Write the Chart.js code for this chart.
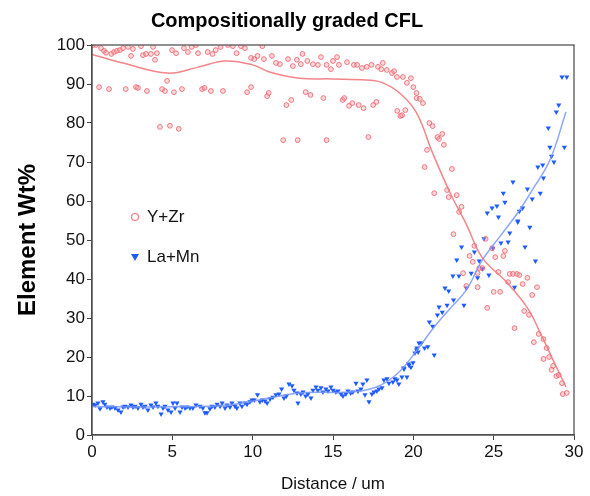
<!DOCTYPE html>
<html>
<head>
<meta charset="utf-8">
<script src="https://cdn.jsdelivr.net/npm/chart.js@4/dist/chart.umd.min.js"></script>
<style>
  html, body { margin: 0; padding: 0; background: #fff; }
  #wrap { width: 590px; height: 496px; }
</style>
</head>
<body>
<div id="wrap"><canvas id="chart"></canvas></div>
<script>
// Y+Zr measured points (distance in um, wt%)
const yzrDistance = [
  0.06, 0.25, 0.56, 0.75, 0.87, 1.2, 1.37, 1.55, 1.74, 1.93, 2.24, 2.43, 2.55, 3.05, 3.17, 3.36, 3.67, 3.8, 4.04, 3.92,
  4.98, 5.23, 5.72, 5.97, 6.2, 6.47, 6.6, 7.2, 7.5, 7.7, 8.0, 8.46, 8.77, 9.0, 9.27, 9.52, 9.9,
  10.1, 10.3, 10.6, 10.7, 11.2, 11.45, 11.7, 12.2, 12.5, 12.75, 13.0, 13.1, 13.4, 13.75, 14.06, 14.25, 14.6, 14.87, 15.0,
  15.25, 15.37, 15.87, 16.3, 16.5, 16.8, 17.1, 17.4, 17.8, 18.1, 18.0, 18.35, 18.67, 18.8, 18.98, 19.35, 19.6, 19.85,
  20.0, 20.2, 20.2, 20.4, 20.6,
  0.44, 1.06, 2.1, 2.74, 2.86, 3.42, 4.36, 4.54, 4.67, 5.1, 5.6, 6.85, 7.0, 7.4, 8.15, 9.65, 9.9, 10.9, 11.0, 12.1,
  12.4, 13.3, 13.6, 14.4, 15.6, 15.7, 16.0, 16.2, 16.6, 16.9, 17.5, 17.7, 19.0, 19.2, 19.5, 19.3,
  4.23, 4.85, 5.4, 11.9, 12.8, 14.6, 17.2,
  21.0, 21.2, 21.5, 21.6, 21.8, 21.9, 20.85, 20.7, 22.4, 22.1, 21.3, 22.2, 22.7, 23.0, 22.85, 22.5, 24.5, 23.8, 24.9,
  25.7, 23.5, 23.7, 25.1, 25.6, 24.1, 24.0, 23.1, 24.3, 25.3, 26.0, 26.2, 26.45, 26.6, 27.1, 25.9, 26.8, 23.3, 24.0,
  27.7, 25.0, 25.4, 27.4, 24.6, 26.9, 27.2, 26.3, 27.8, 28.1, 27.5, 28.3, 28.45, 28.1, 28.7, 28.6, 28.9, 29.05, 29.25,
  29.3, 29.55
];
const yzrWt = [
  100, 100, 99.2, 98.5, 98, 97.7, 98.2, 98.5, 98.7, 99.2, 99.5, 97.2, 99, 99.7, 97.4, 97.7, 97.7, 99.5, 97.9, 96.2,
  98.7, 97.9, 99.2, 98.2, 99.5, 100, 97.9, 98.2, 97.7, 98.7, 99.5, 100, 99.7, 97.9, 99.7, 99.2, 96.7,
  96.4, 97.2, 99.7, 96.4, 97.2, 95.4, 95.1, 96.4, 94.6, 96.2, 95.1, 97.7, 95.9, 95.1, 94.9, 96.9, 94.9, 93.8, 95.9,
  96.9, 94.9, 95.6, 94.9, 94.9, 94.1, 94.4, 94.9, 94.4, 95.4, 93.8, 93.6, 92.8, 93.3, 91.8, 91.8, 90.3, 91.5,
  89.2, 87.7, 86.4, 86.2, 85.1,
  89.2, 88.7, 88.7, 89.2, 89, 88.2, 88.7, 88.2, 90.8, 87.9, 88.7, 88.7, 89, 88.2, 88.2, 87.9, 89.2, 86.9, 87.7, 84.6,
  85.9, 87.9, 87.2, 86.4, 85.9, 86.4, 84.4, 85.1, 84.6, 83.8, 84.6, 85.4, 83.1, 81.8, 83.3, 82,
  79, 79.3, 78.5, 75.6, 75.6, 75.6, 76.4,
  80, 79.2, 76.4, 75.9, 77.2, 74.4, 73.1, 68.7, 68.2, 62.8, 62, 61, 61.5, 58.5, 57.2, 51.5, 50.3, 48.5, 47.9,
  47.2, 45.9, 44.4, 45.6, 45.9, 42.8, 41.5, 41.5, 42.8, 41.8, 41.3, 41.3, 41.3, 41, 40.3, 39.2, 38.7, 38.2, 37.9,
  37.9, 36.7, 36.7, 35.9, 32.6, 31.8, 30.8, 27.4, 25.9, 24.6, 23.8, 22.3, 20, 19.5, 17.7, 16.7, 15.1, 15.4, 13.3,
  10.5, 10.8
];

// La+Mn measured points
const lamnDistance = [
  0.06, 0.2, 0.37, 0.5, 0.68, 0.8, 0.93, 1.12, 1.24, 1.43, 1.62, 1.8, 1.93, 2.05, 2.24, 2.43, 2.55, 2.68, 2.86, 3.05,
  3.17, 3.3, 3.48, 3.67, 3.8, 3.98, 4.1, 4.3, 4.42, 4.54, 4.73, 4.92, 5.04, 5.17, 5.29, 5.48, 5.6, 5.79, 5.91, 6.1,
  6.28, 6.47, 6.72, 6.9, 7.03, 7.16, 7.34, 7.47, 7.65, 7.78, 7.97, 8.1, 8.28, 8.4, 8.59, 8.71, 8.9, 9.02, 9.21, 9.33,
  9.52, 9.65, 9.83, 9.96,
  10.1, 10.3, 10.45, 10.6, 10.77, 10.9, 11.08, 11.26, 11.45, 11.64, 11.8, 11.95, 12.1, 12.26, 12.45, 12.57, 12.76,
  12.82, 13.0, 13.13, 13.3, 13.44, 13.63, 13.75, 13.94, 14.06, 14.25, 14.37, 14.56, 14.69, 14.87, 15.0, 15.18, 15.31,
  15.5, 15.62, 15.8, 15.93, 16.1, 16.24, 16.43, 16.55, 16.74, 16.86, 16.99, 17.11, 17.24, 17.42, 17.55, 17.73, 17.86,
  18.05, 18.17, 18.36, 18.48, 18.73, 18.85, 18.98, 19.1, 19.29, 19.42, 19.6, 19.73, 19.98, 20.1, 20.22, 20.35,
  19.4, 19.7, 19.85, 20.2, 20.3, 20.5, 20.7, 20.9, 21.3, 21.0, 21.2, 21.5, 21.6, 21.8, 22.1, 21.97, 22.2, 22.5, 23.15,
  22.46, 22.84, 23.0, 22.7, 23.3, 23.6, 23.8, 24.0, 24.1, 24.3, 24.4, 24.7, 24.95, 25.45, 25.9, 26.0, 26.3, 26.5,
  26.95, 27.25, 27.6,
  24.6, 24.9, 25.2, 25.3, 25.6, 25.7, 26.2, 26.5, 26.6, 26.8, 27.1, 27.4, 27.75, 27.9, 28.05, 28.1, 28.4, 28.5, 28.6,
  28.75, 28.9, 29.05, 29.4, 29.25, 29.55
];
const lamnWt = [
  7.9, 7.7, 8.2, 6.7, 8.5, 7.9, 7.2, 6.9, 7.2, 6.9, 6.4, 5.9, 7.2, 7.4, 7.2, 7.7, 7.2, 7.4, 6.9, 7.9,
  7.2, 7.4, 6.4, 7.7, 7.2, 8.2, 7.4, 5.4, 6.9, 7.4, 6.4, 5.9, 8.2, 6.9, 8.2, 5.9, 7.2, 6.9, 7.2, 6.9,
  6.9, 7.7, 7.4, 6.9, 5.7, 5.7, 6.7, 7.4, 7.2, 7.9, 7.4, 8.2, 6.9, 7.7, 7.2, 8.2, 7.4, 6.9, 8.2, 7.4,
  8.2, 7.9, 8.5, 9,
  9, 10.3, 8.5, 9, 8.7, 8.2, 9.2, 9.7, 10.3, 10.5, 11.8, 9.5, 10, 13.1, 12.6, 11.5, 10.8,
  8.2, 10.5, 11, 10, 10.5, 9.5, 11.5, 12.3, 11.5, 12.1, 11, 11.8, 11.3, 12.3, 11.5, 11, 11.3,
  10.5, 10, 10.5, 11.3, 10.8, 11, 13.3, 11.3, 11.8, 13.1, 10.3, 14.1, 8.5, 10.5, 11, 11.3, 11.8,
  12.1, 14.1, 14.4, 13.3, 13.6, 14.4, 14.1, 13.1, 14.9, 16.9, 14.9, 17.9, 18.5, 21, 22.3, 23.6,
  17.2, 18.2, 17.4, 21.8, 21.3, 23.6, 22.3, 22.6, 20.5, 29, 27.9, 30.8, 32.8, 31.5, 33.3, 37.7, 36.9, 34.6, 33.3,
  40.8, 40.8, 48.2, 44.9, 37.7, 41.5, 46.9, 40.3, 44.6, 42.6, 50.3, 41, 47.9, 49.2, 49.5, 51.8, 37.9, 54.6,
  48.2, 53.3, 44.6,
  56.9, 58.2, 58.7, 55.9, 62, 59.7, 64.9, 54.9, 57.4, 58.2, 63.1, 60.5, 68.7, 62, 69.2, 65.9, 78.7, 73.8, 71.5,
  70, 82.8, 84.6, 73.8, 91.8, 91.8
];

// Smoothed trend curves
const yzrFitDistance = [0, 2, 4.7, 6.5, 8.3, 10, 11.1, 12.9, 15, 17.1, 18.1, 19.2, 20.2, 21.2, 22.3, 23.3, 24.3, 25.8, 27.1, 27.9, 28.7, 29.5];
const yzrFitWt = [97.6, 95.3, 92.8, 94.2, 95.9, 94.9, 93, 91.5, 91.3, 91, 90.3, 87.5, 82.6, 72.3, 62, 54, 45.4, 39.2, 32.6, 26.2, 19.2, 12.3];
const lamnFitDistance = [0, 4, 8, 9.8, 12.9, 16.1, 17.7, 19, 20.2, 21.2, 22.3, 23.3, 24.3, 25.5, 26.5, 27.4, 28.5, 29.5];
const lamnFitWt = [7.3, 7.2, 7.5, 8.5, 10.8, 11, 12.3, 15.7, 21.6, 27.2, 32.5, 37.2, 44.9, 51.5, 57, 62.8, 70.5, 82.8];

// Tick labels
const xTicks = [0, 5, 10, 15, 20, 25, 30];
const yTicks = [0, 10, 20, 30, 40, 50, 60, 70, 80, 90, 100];

const RED = 'rgba(238, 100, 110, 0.85)';
const RED_FILL = 'rgba(245, 150, 155, 0.35)';
const RED_LINE = 'rgba(240, 120, 125, 0.9)';
const BLUE = '#1f5cff';
const BLUE_LINE = 'rgba(120, 150, 255, 0.85)';
const FONT = "'Liberation Sans', Arial, sans-serif";

const zip = (xs, ys) => xs.map((x, i) => ({ x, y: ys[i] }));

// Frame round the plot area
const framePlugin = {
  id: 'frame',
  afterDraw(chart) {
    const { ctx, chartArea: a } = chart;
    ctx.save();
    ctx.strokeStyle = '#555';
    ctx.lineWidth = 1.3;
    ctx.strokeRect(a.left, a.top, a.right - a.left, a.bottom - a.top);
    ctx.restore();
  }
};

// Legend inside the plot
const legendPlugin = {
  id: 'insideLegend',
  afterDraw(chart) {
    const { ctx } = chart;
    ctx.save();
    ctx.font = '17px ' + FONT;
    ctx.textBaseline = 'middle';
    // circle
    ctx.beginPath();
    ctx.arc(135, 217, 3.5, 0, Math.PI * 2);
    ctx.fillStyle = '#fff';
    ctx.fill();
    ctx.strokeStyle = RED;
    ctx.lineWidth = 1.2;
    ctx.stroke();
    ctx.fillStyle = '#111';
    ctx.fillText('Y+Zr', 147, 217);
    // triangle
    ctx.beginPath();
    ctx.moveTo(131, 254);
    ctx.lineTo(139, 254);
    ctx.lineTo(135, 261);
    ctx.closePath();
    ctx.fillStyle = BLUE;
    ctx.fill();
    ctx.fillStyle = '#111';
    ctx.fillText('La+Mn', 147, 257);
    ctx.restore();
  }
};

new Chart(document.getElementById('chart'), {
  type: 'scatter',
  data: {
    datasets: [
      {
        label: 'Y+Zr fit',
        data: zip(yzrFitDistance, yzrFitWt),
        showLine: true,
        borderColor: RED_LINE,
        borderWidth: 1.5,
        pointRadius: 0,
        tension: 0.4
      },
      {
        label: 'La+Mn fit',
        data: zip(lamnFitDistance, lamnFitWt),
        showLine: true,
        borderColor: BLUE_LINE,
        borderWidth: 1.5,
        pointRadius: 0,
        tension: 0.4
      },
      {
        label: 'Y+Zr',
        data: zip(yzrDistance, yzrWt),
        pointStyle: 'circle',
        pointRadius: 2.4,
        borderWidth: 1,
        borderColor: RED,
        backgroundColor: RED_FILL
      },
      {
        label: 'La+Mn',
        data: zip(lamnDistance, lamnWt),
        pointStyle: 'triangle',
        rotation: 180,
        pointRadius: 3,
        borderWidth: 0,
        borderColor: BLUE,
        backgroundColor: BLUE
      }
    ]
  },
  options: {
    responsive: true,
    maintainAspectRatio: false,
    animation: false,
    layout: { padding: { left: 0, right: 16, top: 0, bottom: 0 } },
    plugins: {
      legend: { display: false },
      tooltip: { enabled: false },
      title: {
        display: true,
        text: 'Compositionally graded CFL',
        color: '#000',
        font: { family: FONT, size: 20, weight: 'bold' },
        padding: { top: 9, bottom: 12 }
      }
    },
    scales: {
      x: {
        type: 'linear',
        min: 0,
        max: 30,
        afterFit(scale) { scale.height = 61; },
        afterBuildTicks(scale) { scale.ticks = xTicks.map(v => ({ value: v })); },
        grid: { drawOnChartArea: false, drawTicks: true, tickLength: 5, color: '#444' },
        border: { color: '#444', width: 1.3 },
        ticks: { color: '#111', font: { family: FONT, size: 17 }, padding: 2 },
        title: {
          display: true,
          text: 'Distance / um',
          color: '#111',
          font: { family: FONT, size: 17 },
          padding: { top: 1, bottom: 1 }
        }
      },
      y: {
        type: 'linear',
        min: 0,
        max: 100,
        afterFit(scale) { scale.width = 92; },
        afterBuildTicks(scale) { scale.ticks = yTicks.map(v => ({ value: v })); },
        grid: { drawOnChartArea: false, drawTicks: true, tickLength: 5, color: '#444' },
        border: { color: '#444', width: 1.3 },
        ticks: { color: '#111', font: { family: FONT, size: 17 }, padding: 2 },
        title: {
          display: true,
          text: 'Element Wt%',
          color: '#000',
          font: { family: FONT, size: 24, weight: 'bold' },
          padding: { top: 14, bottom: 0 }
        }
      }
    }
  },
  plugins: [framePlugin, legendPlugin]
});
</script>
</body>
</html>
